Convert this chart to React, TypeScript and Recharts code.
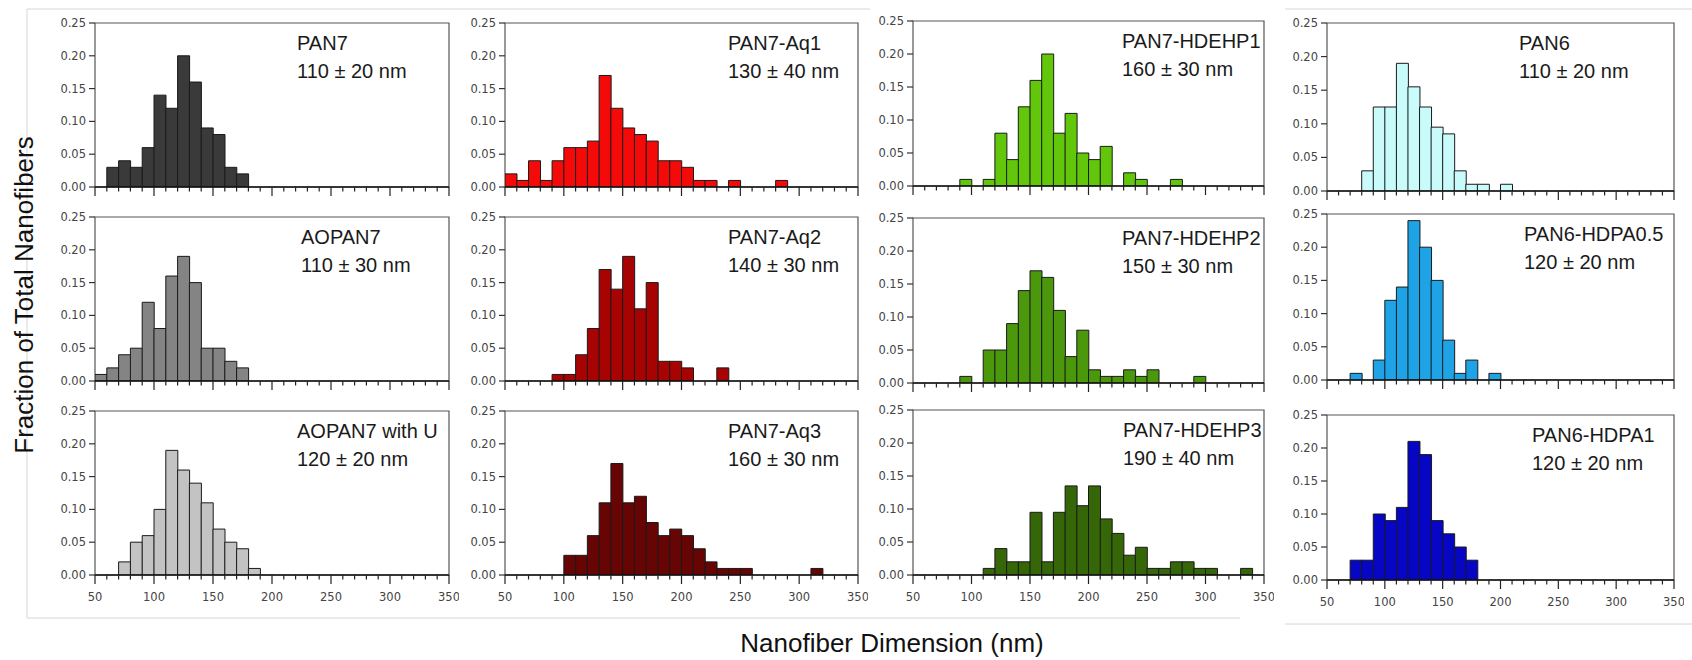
import React from 'react';
import { BarChart, Bar, XAxis, YAxis, ReferenceArea } from 'recharts';

// ---------- DATA ----------
const binStarts = [50, 60, 70, 80, 90, 100, 110, 120, 130, 140, 150, 160, 170, 180, 190, 200, 210, 220, 230, 240, 250, 260, 270, 280, 290, 300, 310, 320, 330, 340];
const xTickValues = [50, 60, 70, 80, 90, 100, 110, 120, 130, 140, 150, 160, 170, 180, 190, 200, 210, 220, 230, 240, 250, 260, 270, 280, 290, 300, 310, 320, 330, 340, 350];
const yTickValues = [0, 0.05, 0.1, 0.15, 0.2, 0.25];

const panelNames = ['PAN7', 'PAN7-Aq1', 'PAN7-HDEHP1', 'PAN6', 'AOPAN7', 'PAN7-Aq2', 'PAN7-HDEHP2', 'PAN6-HDPA0.5', 'AOPAN7 with U', 'PAN7-Aq3', 'PAN7-HDEHP3', 'PAN6-HDPA1'];
const panelSizes = ['110 ± 20 nm', '130 ± 40 nm', '160 ± 30 nm', '110 ± 20 nm', '110 ± 30 nm', '140 ± 30 nm', '150 ± 30 nm', '120 ± 20 nm', '120 ± 20 nm', '160 ± 30 nm', '190 ± 40 nm', '120 ± 20 nm'];

// first bin start of each series (nm), values are fractions per 10 nm bin
const pan7Start = 60;
const pan7 = [0.03, 0.04, 0.03, 0.06, 0.14, 0.12, 0.20, 0.16, 0.09, 0.08, 0.03, 0.02];
const aq1Start = 50;
const aq1 = [0.02, 0.01, 0.04, 0.01, 0.04, 0.06, 0.06, 0.07, 0.17, 0.12, 0.09, 0.08, 0.07, 0.04, 0.04, 0.03, 0.01, 0.01, 0, 0.01, 0, 0, 0, 0.01];
const hdehp1Start = 90;
const hdehp1 = [0.01, 0, 0.01, 0.08, 0.04, 0.12, 0.16, 0.20, 0.08, 0.11, 0.05, 0.04, 0.06, 0, 0.02, 0.01, 0, 0, 0.01];
const pan6Start = 80;
const pan6 = [0.03, 0.125, 0.125, 0.19, 0.155, 0.125, 0.095, 0.085, 0.03, 0.01, 0.01, 0, 0.01];
const aopan7Start = 50;
const aopan7 = [0.01, 0.02, 0.04, 0.05, 0.12, 0.08, 0.16, 0.19, 0.15, 0.05, 0.05, 0.03, 0.02];
const aq2Start = 90;
const aq2 = [0.01, 0.01, 0.04, 0.08, 0.17, 0.14, 0.19, 0.11, 0.15, 0.03, 0.03, 0.02, 0, 0, 0.02];
const hdehp2Start = 90;
const hdehp2 = [0.01, 0, 0.05, 0.05, 0.09, 0.14, 0.17, 0.16, 0.11, 0.04, 0.08, 0.02, 0.01, 0.01, 0.02, 0.01, 0.02, 0, 0, 0, 0.01];
const hdpa05Start = 70;
const hdpa05 = [0.01, 0, 0.03, 0.12, 0.14, 0.24, 0.20, 0.15, 0.06, 0.01, 0.03, 0, 0.01];
const aopan7uStart = 70;
const aopan7u = [0.02, 0.05, 0.06, 0.10, 0.19, 0.16, 0.14, 0.11, 0.07, 0.05, 0.04, 0.01];
const aq3Start = 100;
const aq3 = [0.03, 0.03, 0.06, 0.11, 0.17, 0.11, 0.12, 0.08, 0.06, 0.07, 0.06, 0.04, 0.02, 0.01, 0.01, 0.01, 0, 0, 0, 0, 0, 0.01];
const hdehp3Start = 110;
const hdehp3 = [0.01, 0.04, 0.02, 0.02, 0.095, 0.02, 0.095, 0.135, 0.105, 0.135, 0.085, 0.063, 0.03, 0.042, 0.01, 0.01, 0.02, 0.02, 0.01, 0.01, 0, 0, 0.01];
const hdpa1Start = 70;
const hdpa1 = [0.03, 0.03, 0.10, 0.09, 0.11, 0.21, 0.19, 0.09, 0.07, 0.05, 0.03];

const seriesStarts = [pan7Start, aq1Start, hdehp1Start, pan6Start, aopan7Start, aq2Start, hdehp2Start, hdpa05Start, aopan7uStart, aq3Start, hdehp3Start, hdpa1Start];
const seriesValues = [pan7, aq1, hdehp1, pan6, aopan7, aq2, hdehp2, hdpa05, aopan7u, aq3, hdehp3, hdpa1];

// ---------- STYLE / LAYOUT ----------
const panelColors = ['#3a3a3a', '#f50a0a', '#62c70a', '#c9fbfb', '#848484', '#a80303', '#4b980c', '#1ea4e6', '#c3c3c3', '#670404', '#356607', '#0606c4'];
const colL = [95, 505, 913, 1327];
const colR = [449, 858, 1264, 1674];
const rowT = [[23, 217, 411], [23, 217, 411], [21, 218, 410], [23, 214, 415]];
const rowB = [[187, 381, 575], [187, 381, 575], [186, 383, 575], [191, 380, 580]];
const titleDx = [202, 223, 209, 192, 206, 223, 209, 197, 202, 223, 210, 205];

const TICK_FONT = '"DejaVu Sans", sans-serif';
const TEXT_FONT = '"Liberation Sans", Arial, sans-serif';

function buildData(start: number, vals: number[]) {
  return binStarts.map((b) => {
    const i = (b - start) / 10;
    const v = i >= 0 && i < vals.length ? vals[i] : 0;
    return { x: b + 5, v };
  });
}

function makeXTick(showLabels: boolean) {
  return (props: any) => {
    const { x, y, payload } = props;
    const val = payload.value as number;
    const major = val % 50 === 0;
    return (
      <g>
        <line x1={x} x2={x} y1={y} y2={y + (major ? 9 : 4.5)} stroke="#222" strokeWidth={1.2} />
        {showLabels && major ? (
          <text x={x} y={y + 26} textAnchor="middle" fontFamily={TICK_FONT} fontSize={11.5} fill="#444">
            {val}
          </text>
        ) : null}
      </g>
    );
  };
}

function Panel({ idx }: { idx: number }) {
  const col = idx % 4;
  const row = Math.floor(idx / 4);
  const L = colL[col];
  const R = colR[col];
  const T = rowT[col][row];
  const B = rowB[col][row];
  const leftSpace = 60;
  const topPad = 12;
  const axisH = 40;
  const w = R - L + leftSpace + 10;
  const h = B - T + topPad + axisH;
  const data = buildData(seriesStarts[idx], seriesValues[idx]);
  return (
    <div style={{ position: 'absolute', left: L - leftSpace, top: T - topPad }}>
      <BarChart width={w} height={h} data={data} margin={{ top: topPad, right: 10, bottom: 0, left: 0 }} barCategoryGap={0} barGap={0}>
        <ReferenceArea x1={50} x2={350} y1={0} y2={0.25} fill="#ffffff" fillOpacity={0} stroke="#555" strokeWidth={1.2} ifOverflow="visible" />
        <XAxis
          type="number"
          dataKey="x"
          domain={[50, 350]}
          allowDataOverflow
          ticks={xTickValues}
          interval={0}
          tickSize={0}
          tickMargin={0}
          tickLine={false}
          tick={makeXTick(row === 2)}
          height={axisH}
          axisLine={{ stroke: '#111', strokeWidth: 1.6 }}
        />
        <YAxis
          type="number"
          domain={[0, 0.25]}
          allowDataOverflow
          ticks={yTickValues}
          interval={0}
          width={leftSpace}
          tickSize={6}
          tickMargin={3}
          axisLine={false}
          tickLine={{ stroke: '#333', strokeWidth: 1.2 }}
          tickFormatter={(v: number) => v.toFixed(2)}
          tick={{ fontFamily: TICK_FONT, fontSize: 11.5, fill: '#444' }}
        />
        <Bar dataKey="v" fill={panelColors[idx]} stroke="#1a1a1a" strokeWidth={1} isAnimationActive={false} />
      </BarChart>
    </div>
  );
}

export default function App() {
  const idxs = panelNames.map((_, i) => i);
  return (
    <div style={{ position: 'absolute', left: 0, top: 0, width: 1692, height: 660, background: '#fff', overflow: 'hidden' }}>
      {idxs.map((i) => (
        <Panel key={i} idx={i} />
      ))}
      <svg width={1692} height={660} style={{ position: 'absolute', left: 0, top: 0, pointerEvents: 'none' }}>
        <g stroke="#d6d6d6" strokeWidth={1} fill="none">
          <line x1={27} y1={9} x2={870} y2={9} />
          <line x1={27} y1={9} x2={27} y2={618} />
          <line x1={27} y1={618} x2={1240} y2={618} />
          <line x1={1285} y1={9} x2={1692} y2={9} />
          <line x1={1285} y1={624} x2={1692} y2={624} />
        </g>
        {idxs.map((i) => {
          const col = i % 4;
          const row = Math.floor(i / 4);
          const x = colL[col] + titleDx[i];
          const T = rowT[col][row];
          return (
            <g key={i} fontFamily={TEXT_FONT} fontSize={20} fill="#1a1a1a">
              <text x={x} y={T + 27}>{panelNames[i]}</text>
              <text x={x} y={T + 55}>{panelSizes[i]}</text>
            </g>
          );
        })}
        <text x={33} y={295} transform="rotate(-90, 33, 295)" textAnchor="middle" fontFamily={TEXT_FONT} fontSize={26} fill="#111">
          Fraction of Total Nanofibers
        </text>
        <text x={892} y={652} textAnchor="middle" fontFamily={TEXT_FONT} fontSize={26} fill="#111">
          Nanofiber Dimension (nm)
        </text>
      </svg>
    </div>
  );
}
